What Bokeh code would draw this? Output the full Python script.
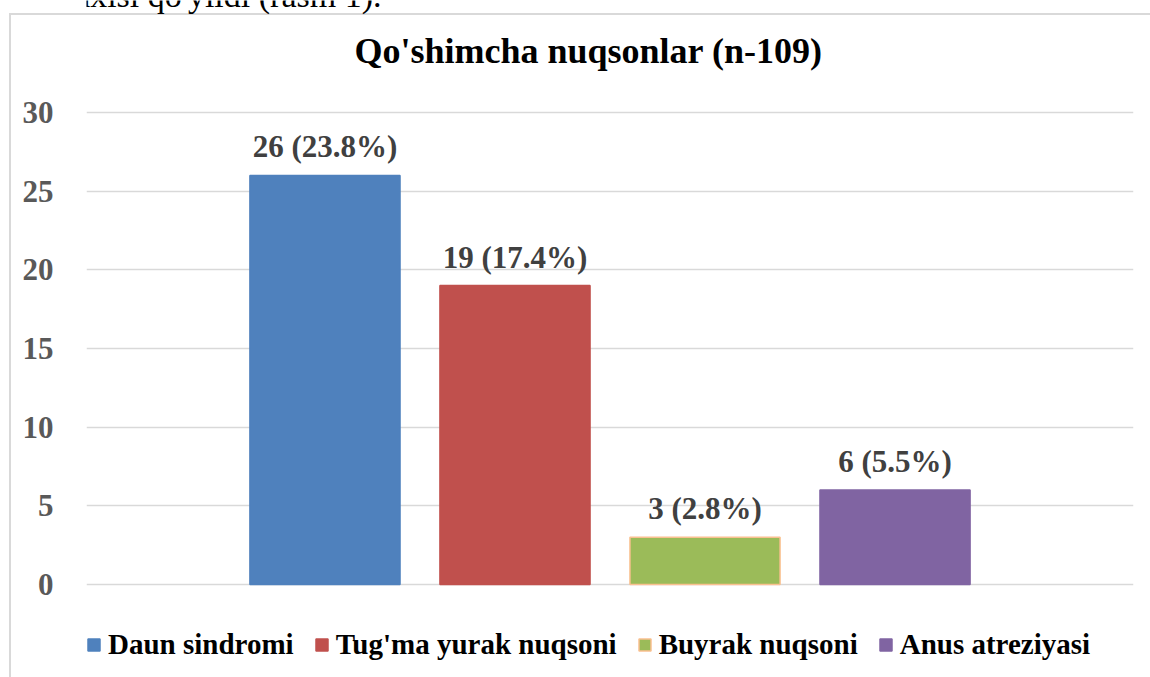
from bokeh.plotting import figure
from bokeh.models import (ColumnDataSource, Range1d, FixedTicker, LabelSet, Label,
                          Legend, LegendItem)
from bokeh.embed import file_html
from bokeh.resources import INLINE

# ---- data ----
categories = ["Daun sindromi", "Tug'ma yurak nuqsoni", "Buyrak nuqsoni", "Anus atreziyasi"]
counts = [26, 19, 3, 6]
percents = [23.8, 17.4, 2.8, 5.5]
colors = ["#4F81BD", "#C0504D", "#9BBB59", "#8064A2"]
outline_colors = ["#4F81BD", "#C0504D", "#FAC090", "#8064A2"]
y_ticks = [0, 5, 10, 15, 20, 25, 30]
title_text = "Qo'shimcha nuqsonlar (n-109)"
above_text = "ya tashxisi qo'yildi (rasm 1)."

FONT = "Liberation Serif"

# ---- layout (pixels) ----
W, H = 1150, 677
PLOT_L, PLOT_R, PLOT_T, PLOT_B = 86, 1133, 112, 584
Y_MAX = max(y_ticks)
px_per_unit = (PLOT_B - PLOT_T) / Y_MAX
LABEL_SHIFT = 12  # empirical correction for screen-unit labels

n = len(categories)
xpos = [i - (n - 1) / 2 for i in range(n)]
labels = [f"{c} ({p}%)" for c, p in zip(counts, percents)]

src = ColumnDataSource(dict(x=xpos, top=counts, color=colors, line=outline_colors,
                            label=labels, cat=categories))

# frame spans the full canvas height, so the plot area (0..30) sits at PLOT_T..PLOT_B
y_range = Range1d(-(H - PLOT_B) / px_per_unit, Y_MAX + PLOT_T / px_per_unit)

p = figure(width=W, height=H, output_backend="svg", toolbar_location=None,
           x_range=Range1d(-2.755, 2.755), y_range=y_range, x_axis_location=None,
           min_border_left=PLOT_L, min_border_right=W - PLOT_R,
           min_border_top=0, min_border_bottom=0)
p.outline_line_color = None
p.background_fill_color = None
p.border_fill_color = None
# white page with the light-grey chart-area border (top and left edges)
p.styles = {
    "background-color": "white",
    "background-image": "linear-gradient(#D9D9D9, #D9D9D9), linear-gradient(#D9D9D9, #D9D9D9)",
    "background-size": "2px 100%, 100% 2px",
    "background-position": "9px 13px, 9px 13px",
    "background-repeat": "no-repeat",
}

p.xgrid.visible = False
p.ygrid.grid_line_color = "#D9D9D9"
p.ygrid.grid_line_width = 1.5
p.yaxis.ticker = FixedTicker(ticks=y_ticks)
p.ygrid.ticker = FixedTicker(ticks=y_ticks)
p.yaxis.axis_line_color = None
p.yaxis.major_tick_line_color = None
p.yaxis.minor_tick_line_color = None
p.yaxis.major_label_standoff = 27
p.yaxis.major_label_text_font = FONT
p.yaxis.major_label_text_font_style = "bold"
p.yaxis.major_label_text_font_size = "31px"
p.yaxis.major_label_text_color = "#595959"

r = p.vbar(x="x", top="top", width=0.79, bottom=0, source=src,
           fill_color="color", line_color="line", line_width=1.5)

lbl = LabelSet(x="x", y="top", text="label", source=src, text_align="center",
               text_baseline="alphabetic", y_offset=18, text_font=FONT,
               text_font_style="bold", text_font_size="31px", text_color="#404040")
p.add_layout(lbl)

# title (screen units: from frame left / frame bottom)
p.add_layout(Label(x=588 - PLOT_L, y=H - 62 + LABEL_SHIFT, x_units="screen", y_units="screen",
                   text=title_text, text_align="center", text_baseline="alphabetic",
                   text_font=FONT, text_font_style="bold", text_font_size="36px",
                   text_color="black"))

# cut-off line of the document text above the chart
p.add_layout(Label(x=381 - PLOT_L, y=H - 7 + LABEL_SHIFT, x_units="screen", y_units="screen",
                   text=above_text, text_align="right", text_baseline="alphabetic",
                   text_font=FONT, text_font_size="34px", text_color="black"))

items = [LegendItem(label=c, renderers=[r], index=i) for i, c in enumerate(categories)]
leg = Legend(items=items, orientation="horizontal", location=(0, 16),
             glyph_width=15, glyph_height=15, label_standoff=7, spacing=20,
             padding=0, margin=0, border_line_alpha=0, background_fill_alpha=0,
             label_text_font=FONT, label_text_font_style="bold",
             label_text_font_size="29px", label_text_color="black",
             label_height=15)
p.add_layout(leg, "center")

open("out.html", "w").write(file_html(p, INLINE))
